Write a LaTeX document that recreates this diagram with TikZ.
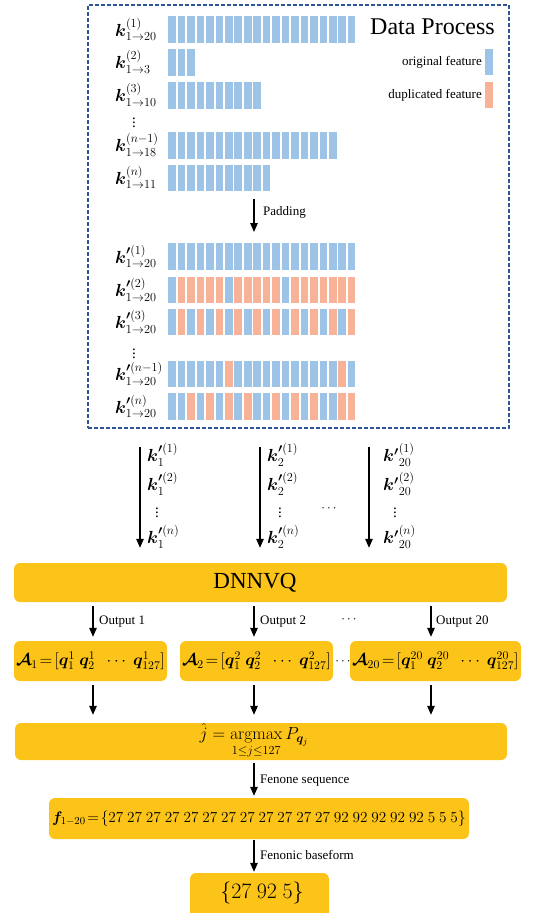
\RequirePackage{fix-cm}
\documentclass[tikz,border=0pt]{standalone}
\usepackage{amsmath,bm}
\usepackage[no-math]{fontspec}
\setmainfont{Liberation Serif}
\usetikzlibrary{arrows.meta}

\definecolor{origc}{RGB}{157,195,230}
\definecolor{dupc}{RGB}{248,178,152}
\definecolor{gold}{RGB}{252,196,24}
\definecolor{frameblue}{RGB}{47,85,151}

% one row of feature bars: #1 = top edge, #2 = list of 0 (original) / 1 (duplicated)
\newcommand\featrow[2]{%
  \foreach \c [count=\i from 0] in {#2} {%
    \ifnum\c=1 \def\barcol{dupc}\else\def\barcol{origc}\fi
    \fill[\barcol] ({168.3+9.45*\i},#1) rectangle ++(7.6,26.5);
  }}

\tikzset{
  flow/.style={-{Triangle[length=9pt,width=7.5pt]}, line width=1.3pt},
  goldbox/.style={fill=gold, rounded corners=6pt, inner sep=0pt},
  lab/.style={font=\fontsize{13}{15}\selectfont, inner sep=0pt},
  klab/.style={font=\fontsize{17.5}{21}\selectfont, inner sep=0pt},
  dotlab/.style={font=\fontsize{15}{17}\selectfont, inner sep=0pt},
  abox/.style={goldbox, minimum height=40pt, font=\fontsize{16.8}{19}\selectfont},
}

\begin{document}
\begin{tikzpicture}[x=1pt,y=-1pt]
\useasboundingbox (0,0) rectangle (535,913);

% ---------- data processing frame ----------
\node[draw=frameblue, line width=1.1pt, dash pattern=on 4pt off 2pt,
      minimum width=421pt, minimum height=423pt, inner sep=0pt] (dp) at (298.5,216.5) {};
\node[font=\fontsize{24}{28}\selectfont, anchor=base east, inner sep=0pt] (title) at (495,34) {Data Process};

% legend
\fill[origc] (485,49) rectangle (493,75);
\fill[dupc] (485,82) rectangle (493,108);
\node[lab, anchor=east] (legO) at (482,62) {original feature};
\node[lab, anchor=east] (legD) at (482,95) {duplicated feature};

% raw sequences
\featrow{16}{0,0,0,0,0,0,0,0,0,0,0,0,0,0,0,0,0,0,0,0}
\featrow{49}{0,0,0}
\featrow{82}{0,0,0,0,0,0,0,0,0,0}
\featrow{132}{0,0,0,0,0,0,0,0,0,0,0,0,0,0,0,0,0,0}
\featrow{164.5}{0,0,0,0,0,0,0,0,0,0,0}

\node[klab, anchor=west] (r1) at (115,29.5) {$\bm{k}^{(1)}_{1\to 20}$};
\node[klab, anchor=west] (r2) at (115,62) {$\bm{k}^{(2)}_{1\to 3}$};
\node[klab, anchor=west] (r3) at (115,95) {$\bm{k}^{(3)}_{1\to 10}$};
\node[dotlab] (rv) at (134,120) {$\vdots$};
\node[klab, anchor=west] (r4) at (115,145) {$\bm{k}^{(n-1)}_{1\to 18}$};
\node[klab, anchor=west] (r5) at (115,177.5) {$\bm{k}^{(n)}_{1\to 11}$};

% padding step
\coordinate (padtop) at (254,199);
\coordinate (padbot) at (254,232);
\draw[flow] (padtop) -- (padbot);
\node[lab, anchor=base west] (padlab) at (263,215) {Padding};

% padded sequences
\featrow{243}{0,0,0,0,0,0,0,0,0,0,0,0,0,0,0,0,0,0,0,0}
\featrow{276.5}{0,1,1,1,1,1,0,1,1,1,1,1,0,1,1,1,1,1,1,1}
\featrow{308.5}{0,1,0,1,0,1,0,1,0,1,0,1,0,1,0,1,0,1,0,1}
\featrow{360.5}{0,0,0,0,0,0,1,0,0,0,0,0,0,0,0,0,0,0,1,0}
\featrow{393}{0,0,1,0,1,0,1,0,1,0,0,1,0,1,0,1,0,0,1,1}

\node[klab, anchor=west] (p1) at (115,256.5) {$\bm{k'}^{(1)}_{1\to 20}$};
\node[klab, anchor=west] (p2) at (115,290) {$\bm{k'}^{(2)}_{1\to 20}$};
\node[klab, anchor=west] (p3) at (115,322) {$\bm{k'}^{(3)}_{1\to 20}$};
\node[dotlab] (pv) at (134,351) {$\vdots$};
\node[klab, anchor=west] (p4) at (115,374) {$\bm{k'}^{(n-1)}_{1\to 20}$};
\node[klab, anchor=west] (p5) at (115,406.5) {$\bm{k'}^{(n)}_{1\to 20}$};

% ---------- network ----------
\node[goldbox, minimum width=493pt, minimum height=39pt] (dnn) at (260.5,582.5) {};
\node[font=\fontsize{23}{26}\selectfont, inner sep=0pt] (dnnlab) at (255,582.5) {DNNVQ};

% per-dimension streams into the network
\coordinate (c1) at (140,447);
\coordinate (c2) at (260,447);
\coordinate (c3) at (369,447);
\draw[flow, shorten >=15pt] (c1) -- (c1 |- dnn.north);
\draw[flow, shorten >=15pt] (c2) -- (c2 |- dnn.north);
\draw[flow, shorten >=15pt] (c3) -- (c3 |- dnn.north);

\node[klab, anchor=west] (s11) at (147,455) {$\bm{k'}^{(1)}_{1}$};
\node[klab, anchor=west] (s12) at (147,484) {$\bm{k'}^{(2)}_{1}$};
\node[dotlab] (s1v) at (157,510) {$\vdots$};
\node[klab, anchor=west] (s1n) at (147,537) {$\bm{k'}^{(n)}_{1}$};

\node[klab, anchor=west] (s21) at (267,455) {$\bm{k'}^{(1)}_{2}$};
\node[klab, anchor=west] (s22) at (267,484) {$\bm{k'}^{(2)}_{2}$};
\node[dotlab] (s2v) at (280,510) {$\vdots$};
\node[klab, anchor=west] (s2n) at (267,537) {$\bm{k'}^{(n)}_{2}$};

\node[lab] (sdots) at (330,509) {$\cdots$};

\node[klab, anchor=west] (s31) at (383,455) {$\bm{k'}{}^{(1)}_{20}$};
\node[klab, anchor=west] (s32) at (383,484) {$\bm{k'}{}^{(2)}_{20}$};
\node[dotlab] (s3v) at (395,510) {$\vdots$};
\node[klab, anchor=west] (s3n) at (383,537) {$\bm{k'}{}^{(n)}_{20}$};

% ---------- codebook outputs ----------
\node[lab] (adots) at (344,662) {$\cdots$};
\node[abox, minimum width=153pt] (a1) at (90.5,661)
  {$\bm{\mathcal{A}}_1\!=\![\bm{q}^1_1\ \bm{q}^1_2\ \ \cdots\ \bm{q}^1_{127}]$};
\node[abox, minimum width=153pt] (a2) at (256.5,661)
  {$\bm{\mathcal{A}}_2\!=\![\bm{q}^2_1\ \bm{q}^2_2\ \ \cdots\ \bm{q}^2_{127}]$};
\node[abox, minimum width=171pt] (a3) at (435.5,661)
  {$\bm{\mathcal{A}}_{20}\!=\![\bm{q}^{20}_1\ \bm{q}^{20}_2\ \ \cdots\ \bm{q}^{20}_{127}]$};

\coordinate (o1) at (93,0);
\coordinate (o2) at (254,0);
\coordinate (o3) at (431,0);
\draw[flow, shorten <=4pt, shorten >=4pt] (dnn.south -| o1) -- (a1.north -| o1);
\draw[flow, shorten <=4pt, shorten >=4pt] (dnn.south -| o2) -- (a2.north -| o2);
\draw[flow, shorten <=4pt, shorten >=4pt] (dnn.south -| o3) -- (a3.north -| o3);
\node[lab, anchor=base west] (out1) at (99,624) {Output 1};
\node[lab, anchor=base west] (out2) at (260,624) {Output 2};
\node[lab] (odots) at (350,620) {$\cdots$};
\node[lab, anchor=base west] (out3) at (436,624) {Output 20};

% ---------- decision ----------
\node[goldbox, minimum width=492pt, minimum height=37pt] (am) at (261,741.5) {};
\node[font=\fontsize{17.5}{20}\selectfont, inner sep=0pt] (amlab) at (254,741)
  {$\displaystyle\hat{j}=\operatorname*{argmax}_{1\le j\le 127}P_{\bm{q}_j}$};
\draw[flow, shorten <=4pt, shorten >=8pt] (a1.south -| o1) -- (am.north -| o1);
\draw[flow, shorten <=4pt, shorten >=8pt] (a2.south -| o2) -- (am.north -| o2);
\draw[flow, shorten <=4pt, shorten >=8pt] (a3.south -| o3) -- (am.north -| o3);

\node[goldbox, minimum width=420pt, minimum height=41pt, font=\fontsize{15.3}{18}\selectfont] (fs) at (259,818.5)
  {$\bm{f}_{1-20}\!=\!\{27\ 27\ 27\ 27\ 27\ 27\ 27\ 27\ 27\ 27\ 27\ 27\ 92\ 92\ 92\ 92\ 92\ 5\ 5\ 5\}$};
\draw[flow, shorten <=3pt, shorten >=2pt] (am.south -| o2) -- (fs.north -| o2);
\node[lab, anchor=base west] (fsl) at (260,783) {Fenone sequence};

\node[goldbox, minimum width=139pt, minimum height=52pt] (bf) at (259.5,899) {};
\node[font=\fontsize{22}{26}\selectfont, inner sep=0pt] (bflab) at (262,893) {$\{27\ 92\ 5\}$};
\draw[flow, shorten <=1pt, shorten >=1pt] (fs.south -| o2) -- (bf.north -| o2);
\node[lab, anchor=base west] (bfl) at (260,859) {Fenonic baseform};
\end{tikzpicture}
\end{document}
